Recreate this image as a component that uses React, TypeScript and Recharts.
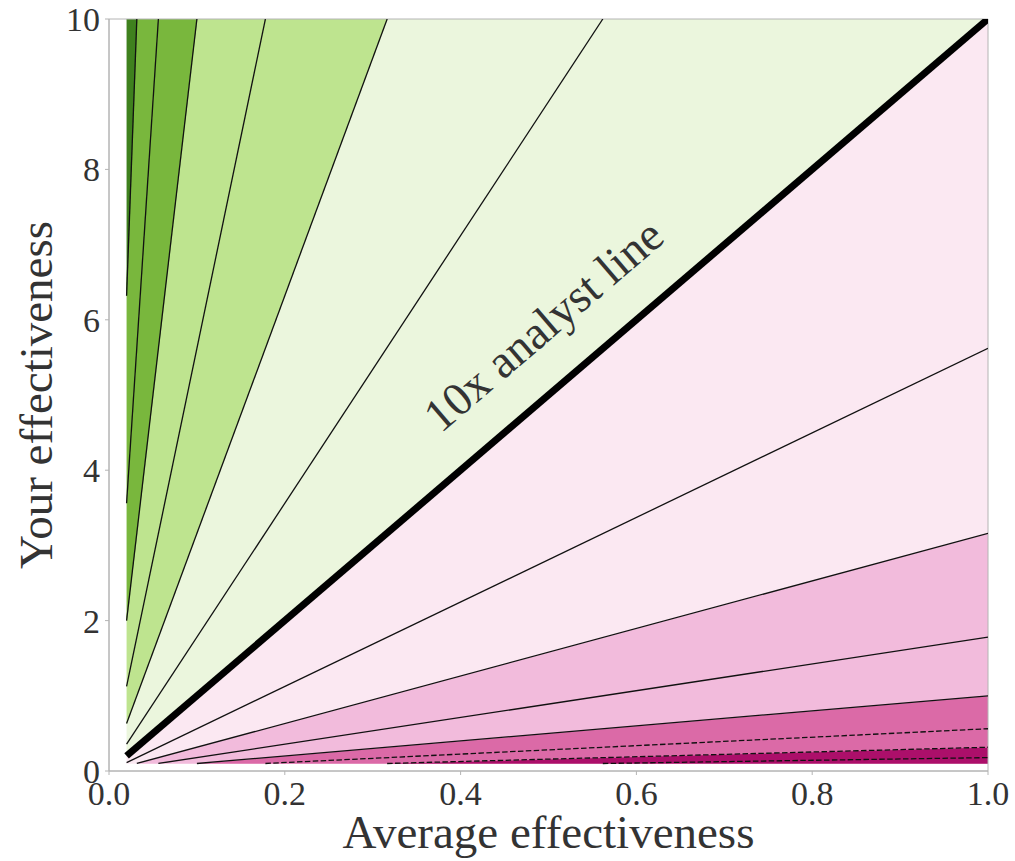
import React from 'react';
import {
  ComposedChart,
  Area,
  Line,
  XAxis,
  YAxis,
  ReferenceDot,
  ReferenceArea,
} from 'recharts';

// ---- data ----
const xGridRange = [0.02, 1];
const yGridRange = [0.1, 10];
// filled contour boundaries (ratio your / average)
const fillLevels = [0.1, 0.316, 1, 3.16, 10, 31.6, 100, 316, 1000];
const fillColors = ['#ac0f6a', '#db6aa7', '#f2bbdc', '#fbe8f2', '#ebf6dd', '#bee48f', '#79b73d', '#3f811e'];
// contour lines (ratios); below 1 they are dashed
const lineLevels = [0.178, 0.316, 0.562, 1, 1.78, 3.16, 5.62, 17.8, 31.6, 56.2, 100, 178, 316];
const analystRatio = 10;
const xTicks = [0, 0.2, 0.4, 0.6, 0.8, 1.0];
const yTicks = [0, 2, 4, 6, 8, 10];
const xLabel = 'Average effectiveness';
const yLabel = 'Your effectiveness';
const annotation = '10x analyst line';
const annotationAt = { x: 0.494, y: 5.93 };

const FONT = '"Liberation Serif", "DejaVu Serif", serif';
const TEXT = '#333';
const SPINE = '#b4b4b4';

function bandData(lo: number, hi: number) {
  const [x0, x1] = xGridRange;
  const [y0, y1] = yGridRange;
  const cand = [x0, x1, y0 / lo, y0 / hi, y1 / lo, y1 / hi]
    .filter((x) => x >= x0 - 1e-12 && x <= x1 + 1e-12)
    .sort((a, b) => a - b);
  const xs: number[] = [];
  cand.forEach((x) => {
    if (!xs.length || Math.abs(xs[xs.length - 1] - x) > 1e-12) xs.push(x);
  });
  const pts: { x: number; range: [number, number] }[] = [];
  xs.forEach((x) => {
    const low = Math.max(y0, lo * x);
    let high = Math.min(y1, hi * x);
    if (high < low - 1e-9) return;
    high = Math.max(high, low);
    pts.push({ x, range: [low, high] });
  });
  return pts;
}

function lineData(s: number) {
  const [x0, x1] = xGridRange;
  const [y0, y1] = yGridRange;
  const xs = Math.max(x0, y0 / s);
  const xe = Math.min(x1, y1 / s);
  return [
    { x: xs, y: s * xs },
    { x: xe, y: s * xe },
  ];
}

const bands = fillColors.map((c, i) => ({
  key: `band${i}`,
  color: c,
  data: bandData(fillLevels[i], fillLevels[i + 1]),
}));

const AnnotationLabel = (props: any) => {
  const vb = props.viewBox || {};
  const cx = (vb.x ?? 0) + (vb.width ?? 0) / 2;
  const cy = (vb.y ?? 0) + (vb.height ?? 0) / 2;
  return (
    <text
      x={cx}
      y={cy}
      transform={`rotate(-40.6, ${cx}, ${cy})`}
      textAnchor="middle"
      dominantBaseline="central"
      fontSize={47}
      fontFamily={FONT}
      fill={TEXT}
    >
      {annotation}
    </text>
  );
};

const YLabel = (props: any) => {
  const vb = props.viewBox || {};
  const x = (vb.x ?? 0) + 52;
  const y = (vb.y ?? 0) + (vb.height ?? 0) / 2;
  return (
    <text
      x={x}
      y={y}
      transform={`rotate(-90, ${x}, ${y})`}
      textAnchor="middle"
      fontSize={47}
      fontFamily={FONT}
      fill={TEXT}
    >
      {yLabel}
    </text>
  );
};

export default function App() {
  return (
    <div style={{ position: 'absolute', left: 0, top: 0, width: 1015, height: 861, background: '#fff' }}>
      <ComposedChart width={1015} height={861} margin={{ top: 19, right: 27, left: 0, bottom: 0 }}>
        <XAxis
          type="number"
          dataKey="x"
          domain={[0, 1]}
          ticks={xTicks}
          tickFormatter={(v: number) => v.toFixed(1)}
          height={90}
          tickSize={4}
          tickMargin={6}
          axisLine={{ stroke: SPINE }}
          tickLine={{ stroke: SPINE }}
          tick={{ fontSize: 34, fill: TEXT, fontFamily: FONT }}
          label={{ value: xLabel, position: 'insideBottom', offset: 13, fontSize: 47, fill: TEXT, fontFamily: FONT }}
          allowDataOverflow
        />
        <YAxis
          type="number"
          domain={[0, 10]}
          ticks={yTicks}
          width={109}
          tickSize={4}
          tickMargin={5}
          axisLine={{ stroke: SPINE }}
          tickLine={{ stroke: SPINE }}
          tick={{ fontSize: 34, fill: TEXT, fontFamily: FONT }}
          label={{ content: YLabel }}
          allowDataOverflow
        />
        {bands.map((b) => (
          <Area
            key={b.key}
            data={b.data}
            dataKey="range"
            type="linear"
            fill={b.color}
            fillOpacity={1}
            stroke={b.color}
            strokeWidth={0.6}
            isAnimationActive={false}
            activeDot={false}
            dot={false}
          />
        ))}
        {lineLevels.map((s) => (
          <Line
            key={`line${s}`}
            data={lineData(s)}
            dataKey="y"
            type="linear"
            stroke="#111"
            strokeWidth={1.3}
            strokeDasharray={s < 1 ? '5.5 2.4' : undefined}
            dot={false}
            activeDot={false}
            isAnimationActive={false}
          />
        ))}
        <Line
          data={lineData(analystRatio)}
          dataKey="y"
          type="linear"
          stroke="#000"
          strokeWidth={7}
          dot={false}
          activeDot={false}
          isAnimationActive={false}
        />
        <ReferenceDot
          x={annotationAt.x}
          y={annotationAt.y}
          r={0}
          fill="none"
          stroke="none"
          label={{ content: AnnotationLabel }}
        />
        <ReferenceArea x1={0} x2={1} y1={0} y2={10} fill="none" fillOpacity={0} stroke={SPINE} strokeWidth={1} />
      </ComposedChart>
    </div>
  );
}
